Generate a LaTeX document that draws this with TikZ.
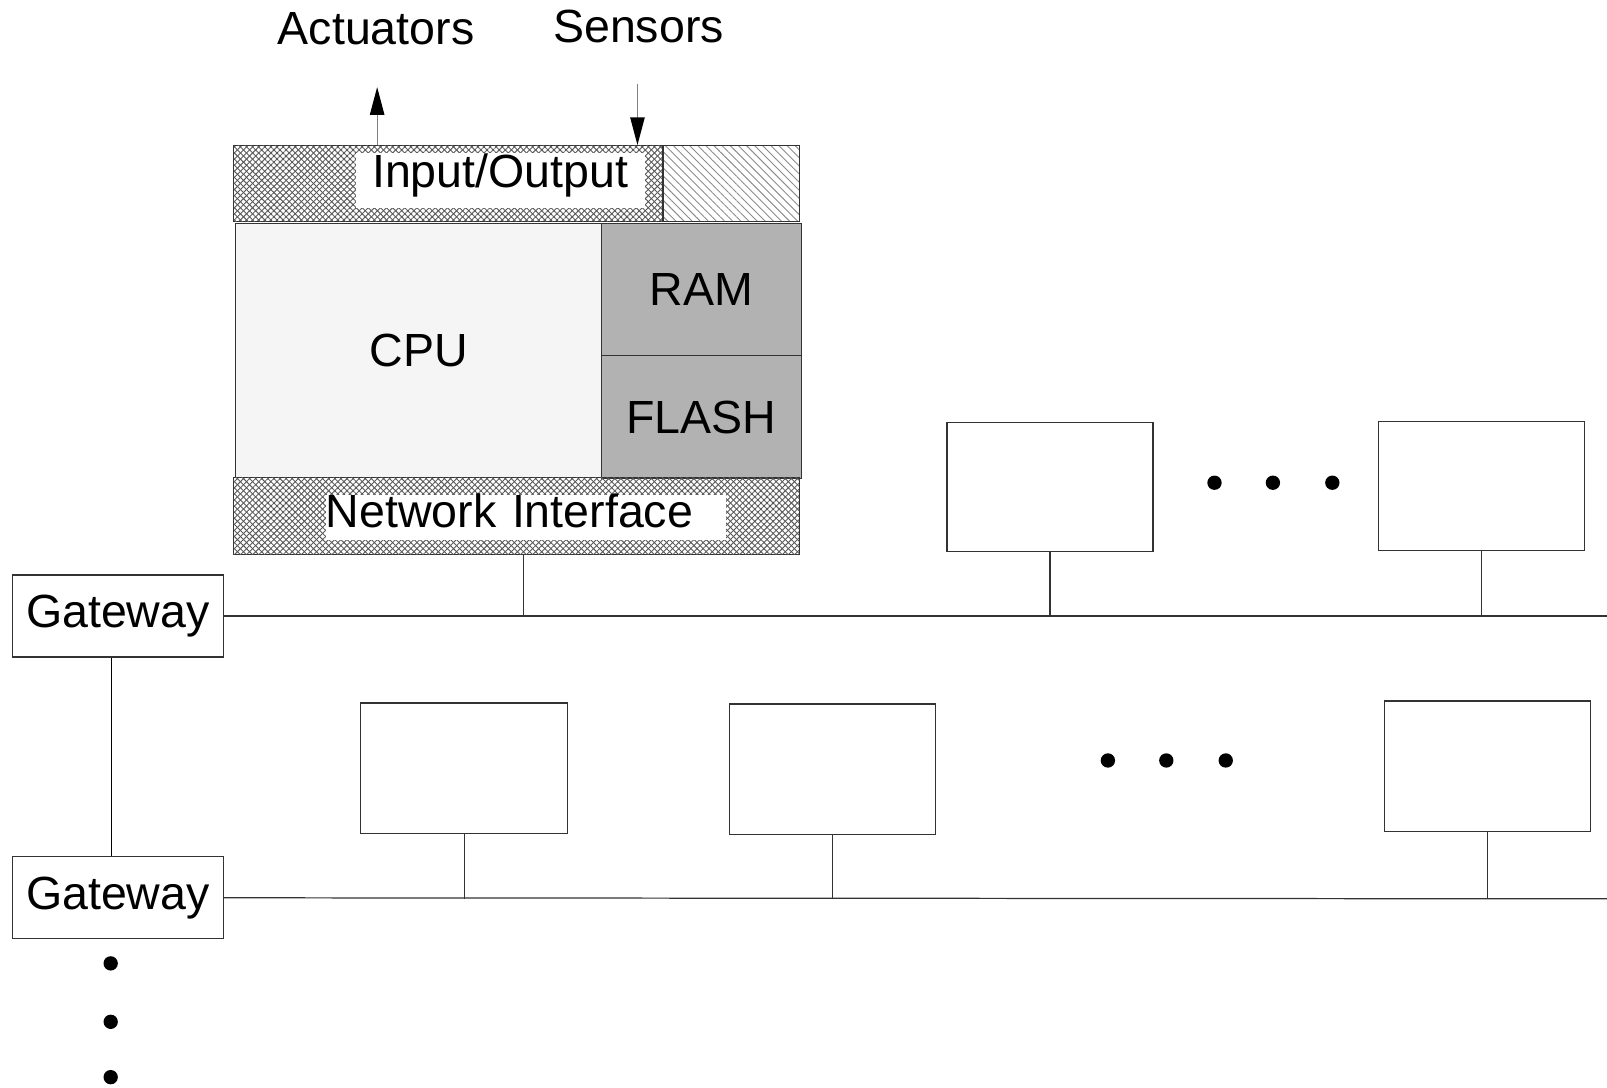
\documentclass[tikz,border=0pt]{standalone}
\usepackage{fontspec}
\setmainfont{Liberation Sans}
\usepackage{tikz}
\usetikzlibrary{arrows.meta}
\usetikzlibrary{patterns.meta}

\begin{document}
\begin{tikzpicture}[x=0.5pt,y=-0.5pt,
		font=\fontsize{22.7pt}{27pt}\selectfont,
		box/.style={draw=black!80, line width=0.6pt, inner sep=0pt},
		mesh/.style={draw=black!80, line width=0.6pt, pattern={Lines[angle=45,distance=2.1pt,line width=0.45pt]}, pattern color=black!65,
			postaction={pattern={Lines[angle=-45,distance=2.1pt,line width=0.45pt]}, pattern color=black!65}},
		wire/.style={draw=black!80, line width=0.6pt},
		tip/.style={-{Triangle[length=13.5pt,width=7pt,color=black]}, draw=black!50, line width=0.6pt}]
			\useasboundingbox (0,0) rectangle (1568,1061);
			\node at (367,28) (act) {Actuators};
			\node at (623,26) (sen) {Sensors};
			\node[mesh, minimum width=209.5pt, minimum height=37pt] at (437.5,179) (io) {};
			\node[box, pattern={Lines[angle=-45,distance=2.8pt,line width=0.45pt]}, pattern color=black!45, minimum width=66.5pt, minimum height=37pt] at (713.5,179) (spare) {};
			\node[fill=white, minimum width=141pt, inner xsep=0pt, inner ysep=0pt, text height=16.5pt, text depth=10pt] at (488,176) (iotext) {Input/Output};
			\node[box, fill=black!4, minimum width=178.5pt, minimum height=124pt] at (408.5,342) (cpu) {CPU};
			\node[box, fill=black!30, minimum width=97.5pt, minimum height=64.5pt] at (684.5,282.5) (ram) {RAM};
			\node[box, fill=black!30, minimum width=97.5pt, minimum height=60pt] at (684.5,407) (flash) {FLASH};
			\node[mesh, minimum width=276pt, minimum height=37.5pt] at (504,503.5) (ni) {};
			\node[fill=white, text width=195pt, align=left, inner sep=0pt, text height=16pt, text depth=6pt] at (513,505) (nitext) {Network Interface};
			\coordinate (acttip) at (368,85);
			\coordinate (sentail) at (622,82);
			\draw[tip] (io.north -| acttip) -- (acttip);
			\draw[tip] (sentail) -- (io.north -| sentail);
			\node[box, minimum width=103pt, minimum height=40pt] at (115,601) (gw1) {Gateway};
			\node[box, minimum width=103pt, minimum height=40pt] at (115,876) (gw2) {Gateway};
			\coordinate (bus1end) at (1568,601);
			\coordinate (bus2end) at (1568,877);
			\draw[wire] (gw1.east) -- (bus1end);
			\draw[wire] (gw2.east) -- (bus2end);
			\draw[wire, draw=black] ([xshift=-3pt]gw1.south) -- ([xshift=-3pt]gw2.north);
			\draw[wire] ([xshift=3.5pt]ni.south) -- ([xshift=3.5pt]ni.south |- bus1end);
			\node[box, minimum width=100.5pt, minimum height=63pt] at (1024.5,475) (st1) {};
			\node[box, minimum width=100.5pt, minimum height=63pt] at (1445.5,474) (st2) {};
			\node[box, minimum width=101pt, minimum height=63.5pt] at (453,749.5) (st3) {};
			\node[box, minimum width=100.5pt, minimum height=63.5pt] at (812.5,750.5) (st4) {};
			\node[box, minimum width=100.5pt, minimum height=63.5pt] at (1451.5,747.5) (st5) {};
			\foreach \s in {st1,st2}
				\draw[wire] (\s.south) -- (\s.south |- bus1end);
			\foreach \s in {st3,st4,st5}
				\draw[wire] (\s.south) -- (\s.south |- bus2end);
			\foreach \x in {1185,1242,1300}
				\fill (\x,471) circle (3.5pt);
			\foreach \x in {1081,1138,1196}
				\fill (\x,742) circle (3.5pt);
			\foreach \y in {940,997,1051}
				\fill (108,\y) circle (3.5pt);
		\end{tikzpicture}
\end{document}
